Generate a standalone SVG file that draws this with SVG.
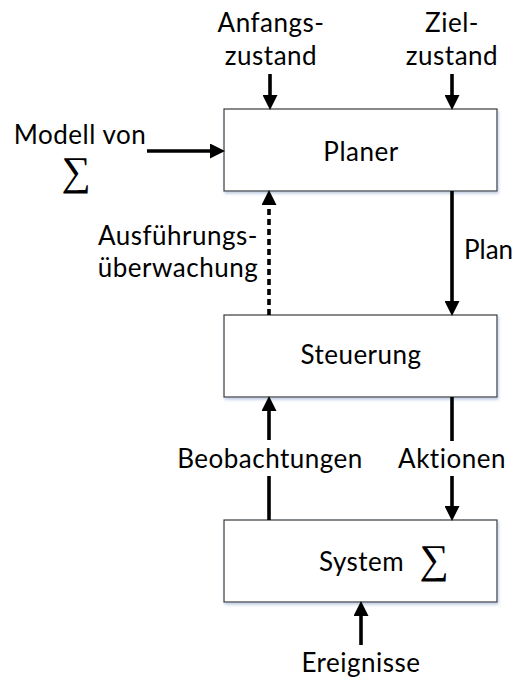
<svg xmlns="http://www.w3.org/2000/svg" width="514" height="679" viewBox="0 0 514 679">
  <defs>
    <style>
      .box { fill: #ffffff; stroke: #3a3a3a; stroke-width: 1.2; }
      .lbl { font-family: "Lato", "Liberation Sans", sans-serif; font-size: 26px; letter-spacing: 0.5px; fill: #000000; }
      .tight { letter-spacing: 0px; }
      .sum { font-family: "Liberation Serif", "DejaVu Serif", serif; font-size: 41px; fill: #000000; }
      .flow { stroke: #000000; stroke-width: 3.6; fill: none; }
      .dash { stroke-dasharray: 6 4; }
    </style>
    <marker id="head" viewBox="0 0 15 15" refX="0" refY="7.5" markerWidth="15" markerHeight="15" markerUnits="userSpaceOnUse" orient="auto">
      <path d="M0,0 L15,7.5 L0,15 z" fill="#000000"/>
    </marker>
    <filter id="shadow" x="-5%" y="-10%" width="115%" height="130%">
      <feGaussianBlur in="SourceAlpha" stdDeviation="1.5"/>
      <feOffset dx="1" dy="2" result="b"/>
      <feFlood flood-color="#9fb4d4" flood-opacity="0.7"/>
      <feComposite in2="b" operator="in"/>
      <feMerge><feMergeNode/><feMergeNode in="SourceGraphic"/></feMerge>
    </filter>
  </defs>

  <!-- free-standing labels -->
  <g id="labels">
    <text class="lbl" x="271" y="32" text-anchor="middle">Anfangs-</text>
    <text class="lbl" x="271" y="65" text-anchor="middle">zustand</text>
    <text class="lbl" x="452" y="32" text-anchor="middle">Ziel-</text>
    <text class="lbl" x="452" y="65" text-anchor="middle">zustand</text>
    <text class="lbl" x="80" y="144" text-anchor="middle">Modell von</text>
    <text class="sum" x="76" y="185" text-anchor="middle">∑</text>
    <text class="lbl" x="178" y="245" text-anchor="middle">Ausführungs-</text>
    <text class="lbl" x="178" y="277" text-anchor="middle">überwachung</text>
    <text class="lbl tight" x="464" y="259">Plan</text>
    <text class="lbl" x="270" y="468" text-anchor="middle">Beobachtungen</text>
    <text class="lbl" x="452" y="468" text-anchor="middle">Aktionen</text>
    <text class="lbl" x="361" y="672" text-anchor="middle">Ereignisse</text>
  </g>

  <!-- nodes -->
  <g id="planer">
    <rect class="box" x="224" y="109" width="273" height="82" filter="url(#shadow)"/>
    <text class="lbl" x="361" y="161" text-anchor="middle">Planer</text>
  </g>
  <g id="steuerung">
    <rect class="box" x="224" y="315" width="273" height="82" filter="url(#shadow)"/>
    <text class="lbl" x="361" y="364" text-anchor="middle">Steuerung</text>
  </g>
  <g id="system">
    <rect class="box" x="224" y="520" width="273" height="82" filter="url(#shadow)"/>
    <text class="lbl" x="319" y="571">System</text>
    <text class="sum" x="434" y="573" text-anchor="middle">∑</text>
  </g>

  <!-- connectors -->
  <g id="connectors">
    <line class="flow" x1="270" y1="74" x2="270" y2="95" marker-end="url(#head)"/>
    <line class="flow" x1="452" y1="74" x2="452" y2="95" marker-end="url(#head)"/>
    <line class="flow" x1="147" y1="151" x2="210" y2="151" marker-end="url(#head)"/>
    <line class="flow dash" x1="269" y1="315" x2="269" y2="205" marker-end="url(#head)"/>
    <line class="flow" x1="452" y1="191" x2="452" y2="301" marker-end="url(#head)"/>
    <line class="flow" x1="269" y1="520" x2="269" y2="476"/>
    <line class="flow" x1="269" y1="440" x2="269" y2="411" marker-end="url(#head)"/>
    <line class="flow" x1="452" y1="397" x2="452" y2="441"/>
    <line class="flow" x1="452" y1="476" x2="452" y2="506" marker-end="url(#head)"/>
    <line class="flow" x1="361" y1="645" x2="361" y2="616" marker-end="url(#head)"/>
  </g>
</svg>
